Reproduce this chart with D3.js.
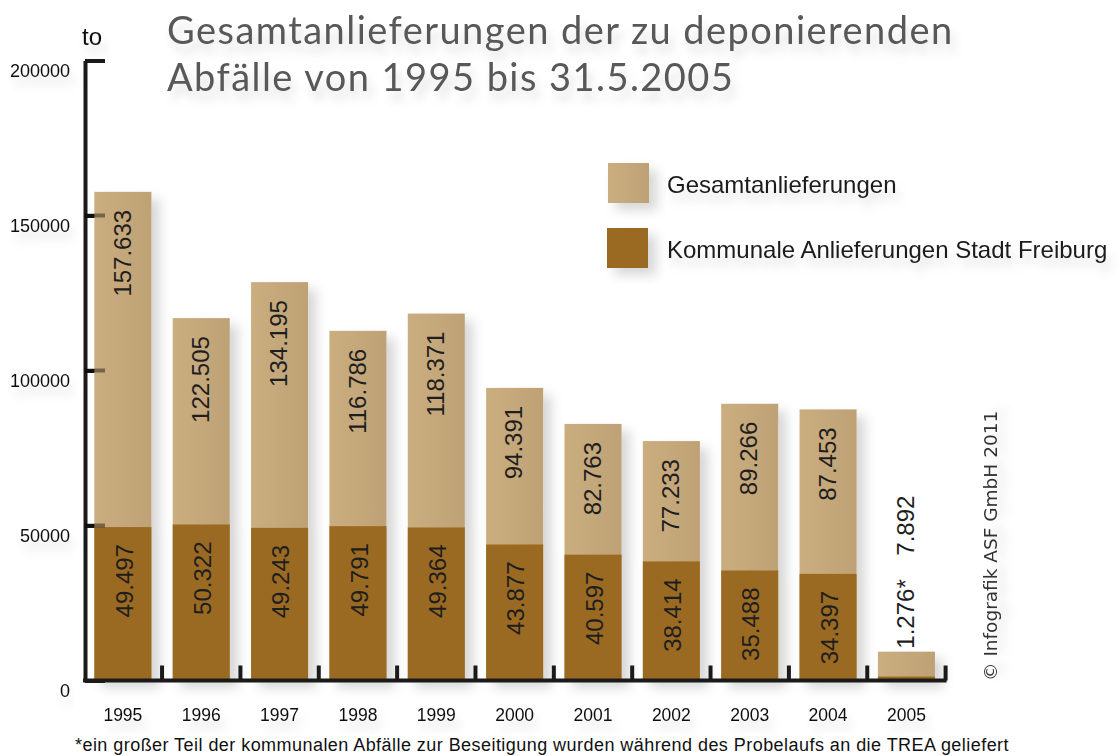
<!DOCTYPE html>
<html>
<head>
<meta charset="utf-8">
<script src="https://cdn.jsdelivr.net/npm/d3@7"></script>
<style>
    body { margin: 0; background: #fff; }
</style>
</head>
<body>
<div id="chart"></div>
<script>
// Years on the x axis
var years = ["1995", "1996", "1997", "1998", "1999", "2000", "2001", "2002", "2003", "2004", "2005"];

// Bar heights as drawn (tonnes); 1996-1998 bars are drawn lower than their printed labels
var gesamt = [157633, 116900, 128500, 112800, 118371, 94391, 82763, 77233, 89266, 87453, 9300];
var kommunal = [49497, 50322, 49243, 49791, 49364, 43877, 40597, 38414, 35488, 34397, 1276];

// Printed value labels
var gesamtLabels = ["157.633", "122.505", "134.195", "116.786", "118.371", "94.391", "82.763", "77.233", "89.266", "87.453", "7.892"];
var kommunalLabels = ["49.497", "50.322", "49.243", "49.791", "49.364", "43.877", "40.597", "38.414", "35.488", "34.397", "1.276*"];

// Y axis ticks
var yTicks = [0, 50000, 100000, 150000, 200000];

var legendItems = ["Gesamtanlieferungen", "Kommunale Anlieferungen Stadt Freiburg"];

function init() {
    var w = 1120;
    var h = 756;

    var svg = d3.select("#chart")
        .append("svg")
        .attr("width", w)
        .attr("height", h)
        .style("font-family", "'Liberation Sans', Arial, Helvetica, sans-serif");

    var defs = svg.append("defs");

    // Soft grey drop shadow used all over the graphic
    var shadow = defs.append("filter")
        .attr("id", "shadow")
        .attr("x", "-20%").attr("y", "-20%")
        .attr("width", "160%").attr("height", "160%");
    shadow.append("feDropShadow")
        .attr("dx", 8).attr("dy", 7)
        .attr("stdDeviation", 6)
        .attr("flood-color", "#000")
        .attr("flood-opacity", 0.16);

    var textShadow = defs.append("filter")
        .attr("id", "textShadow")
        .attr("x", "-20%").attr("y", "-50%")
        .attr("width", "150%").attr("height", "250%");
    textShadow.append("feDropShadow")
        .attr("dx", 4).attr("dy", 9)
        .attr("stdDeviation", 5)
        .attr("flood-color", "#000")
        .attr("flood-opacity", 0.13);

    // Light bar gradient (left lighter, right a bit darker)
    var grad = defs.append("linearGradient")
        .attr("id", "lightBar")
        .attr("x1", "0%").attr("x2", "100%")
        .attr("y1", "0%").attr("y2", "0%");
    grad.append("stop").attr("offset", "0%").attr("stop-color", "#cbae80");
    grad.append("stop").attr("offset", "100%").attr("stop-color", "#bea174");

    var darkColor = "#9b6b21";

    // Scales
    var x = d3.scaleBand()
        .domain(years)
        .range([83.7, 945.6])
        .paddingInner(0.272)
        .paddingOuter(0.136);

    var y = d3.scaleLinear()
        .domain([0, 200000])
        .range([680.5, 60.5]);

    // Title
    var title = svg.append("text")
        .attr("x", 167)
        .attr("y", 44)
        .attr("fill", "#585858")
        .style("font-family", "Lato, 'Open Sans', sans-serif")
        .style("font-size", "38px")
        .style("letter-spacing", "1.45px")
        .attr("filter", "url(#textShadow)");
    title.append("tspan").attr("x", 167).text("Gesamtanlieferungen der zu deponierenden");
    title.append("tspan").attr("x", 167).attr("dy", 47).text("Abfälle von 1995 bis 31.5.2005");

    // Unit label
    svg.append("text")
        .attr("x", 82)
        .attr("y", 45)
        .attr("fill", "#111")
        .style("font-size", "24px")
        .attr("filter", "url(#textShadow)")
        .text("to");

    // Y axis (ticks point inwards)
    var yAxis = d3.axisLeft(y)
        .tickValues(yTicks)
        .tickFormat(d3.format("d"))
        .tickSizeInner(-20)
        .tickSizeOuter(0)
        .tickPadding(15);

    var axisG = svg.append("g")
        .attr("transform", "translate(85,0)")
        .call(yAxis);
    axisG.select(".domain")
        .attr("stroke", "#1a1a1a")
        .attr("stroke-width", 4);
    axisG.selectAll(".tick line")
        .attr("stroke", "#1a1a1a")
        .attr("stroke-width", 4);
    axisG.selectAll(".tick text")
        .attr("fill", "#111")
        .attr("dy", "0.88em")
        .style("font-size", "18px")
        .style("font-family", "'Liberation Sans', Arial, sans-serif")
        .attr("filter", "url(#textShadow)");

    // Bars
    var bars = svg.append("g").attr("filter", "url(#shadow)");

    bars.selectAll("rect.total")
        .data(years)
        .enter()
        .append("rect")
        .attr("class", "total")
        .attr("x", d => x(d))
        .attr("width", x.bandwidth())
        .attr("y", (d, i) => y(gesamt[i]))
        .attr("height", (d, i) => y(0) - y(gesamt[i]))
        .attr("fill", "url(#lightBar)");

    bars.selectAll("rect.komm")
        .data(years)
        .enter()
        .append("rect")
        .attr("class", "komm")
        .attr("x", d => x(d))
        .attr("width", x.bandwidth())
        .attr("y", (d, i) => y(kommunal[i]))
        .attr("height", (d, i) => y(0) - y(kommunal[i]))
        .attr("fill", darkColor);

    // Tick marks show faintly through the first bar
    svg.selectAll("line.tickOver")
        .data(yTicks.slice(1, 4))
        .enter()
        .append("line")
        .attr("class", "tickOver")
        .attr("x1", 85).attr("x2", 105)
        .attr("y1", d => y(d)).attr("y2", d => y(d))
        .attr("stroke", "#000")
        .attr("stroke-opacity", 0.42)
        .attr("stroke-width", 4);

    // Baseline and separators between the bars
    var step = x.step();
    var gap = step * x.paddingInner();
    svg.append("line")
        .attr("x1", 83).attr("x2", x.range()[1] + 1)
        .attr("y1", y(0)).attr("y2", y(0))
        .attr("stroke", "#1a1a1a")
        .attr("stroke-width", 4);

    var sepX = years.slice(1).map(d => x(d) - gap / 2);
    sepX.push(x.range()[1]);
    svg.selectAll("line.sep")
        .data(sepX)
        .enter()
        .append("line")
        .attr("class", "sep")
        .attr("x1", d => d).attr("x2", d => d)
        .attr("y1", y(0) - 15).attr("y2", y(0))
        .attr("stroke", "#1a1a1a")
        .attr("stroke-width", 4);

    // Value labels (rotated, read bottom to top)
    var last = years.length - 1;
    svg.selectAll("text.gLabel")
        .data(years)
        .enter()
        .append("text")
        .attr("class", "gLabel")
        .attr("transform", function (d, i) {
            var cx = x(d) + x.bandwidth() / 2 - 1;
            var yy = i === last ? y(gesamt[i]) - 96 : y(gesamt[i]) + 18;
            return "translate(" + cx + "," + yy + ") rotate(-90)";
        })
        .attr("text-anchor", (d, i) => i === last ? "start" : "end")
        .attr("dy", "0.36em")
        .attr("fill", "#1e1e1e")
        .style("font-size", "24px")
        .text((d, i) => gesamtLabels[i]);

    svg.selectAll("text.kLabel")
        .data(years)
        .enter()
        .append("text")
        .attr("class", "kLabel")
        .attr("transform", function (d, i) {
            var cx = x(d) + x.bandwidth() / 2 - (i === last ? 1 : -1);
            var yy = i === last ? y(gesamt[i]) - 3 : y(kommunal[i]) + 17;
            return "translate(" + cx + "," + yy + ") rotate(-90)";
        })
        .attr("text-anchor", (d, i) => i === last ? "start" : "end")
        .attr("dy", "0.36em")
        .attr("fill", "#1e1e1e")
        .style("font-size", "24px")
        .text((d, i) => kommunalLabels[i]);

    // Year labels
    svg.selectAll("text.year")
        .data(years)
        .enter()
        .append("text")
        .attr("class", "year")
        .attr("x", d => x(d) + x.bandwidth() / 2)
        .attr("y", 721)
        .attr("text-anchor", "middle")
        .attr("fill", "#111")
        .style("font-size", "17.5px")
        .attr("filter", "url(#textShadow)")
        .text(d => d);

    // Legend
    var legend = svg.append("g");
    var legendFill = ["url(#lightBar)", darkColor];
    legend.selectAll("rect")
        .data(legendItems)
        .enter()
        .append("rect")
        .attr("x", (d, i) => i === 0 ? 608 : 607)
        .attr("y", (d, i) => 163 + i * 65)
        .attr("width", 41)
        .attr("height", 40)
        .attr("fill", (d, i) => legendFill[i])
        .attr("filter", "url(#shadow)");
    legend.selectAll("text")
        .data(legendItems)
        .enter()
        .append("text")
        .attr("x", 667)
        .attr("y", (d, i) => 193 + i * 65)
        .attr("fill", "#1a1a1a")
        .style("font-size", "24px")
        .attr("filter", "url(#textShadow)")
        .text(d => d);

    // Copyright, rotated on the right
    svg.append("text")
        .attr("transform", "translate(997,681) rotate(-90)")
        .attr("fill", "#333")
        .style("font-family", "'DejaVu Sans', Verdana, sans-serif")
        .style("font-size", "18.5px")
        .attr("filter", "url(#textShadow)")
        .text("© Infografik ASF GmbH 2011");

    // Footnote
    svg.append("text")
        .attr("x", 75)
        .attr("y", 751)
        .attr("fill", "#111")
        .style("font-size", "18px")
        .style("letter-spacing", "0.45px")
        .text("*ein großer Teil der kommunalen Abfälle zur Beseitigung wurden während des Probelaufs an die TREA geliefert");
}

window.onload = init;
</script>
</body>
</html>
